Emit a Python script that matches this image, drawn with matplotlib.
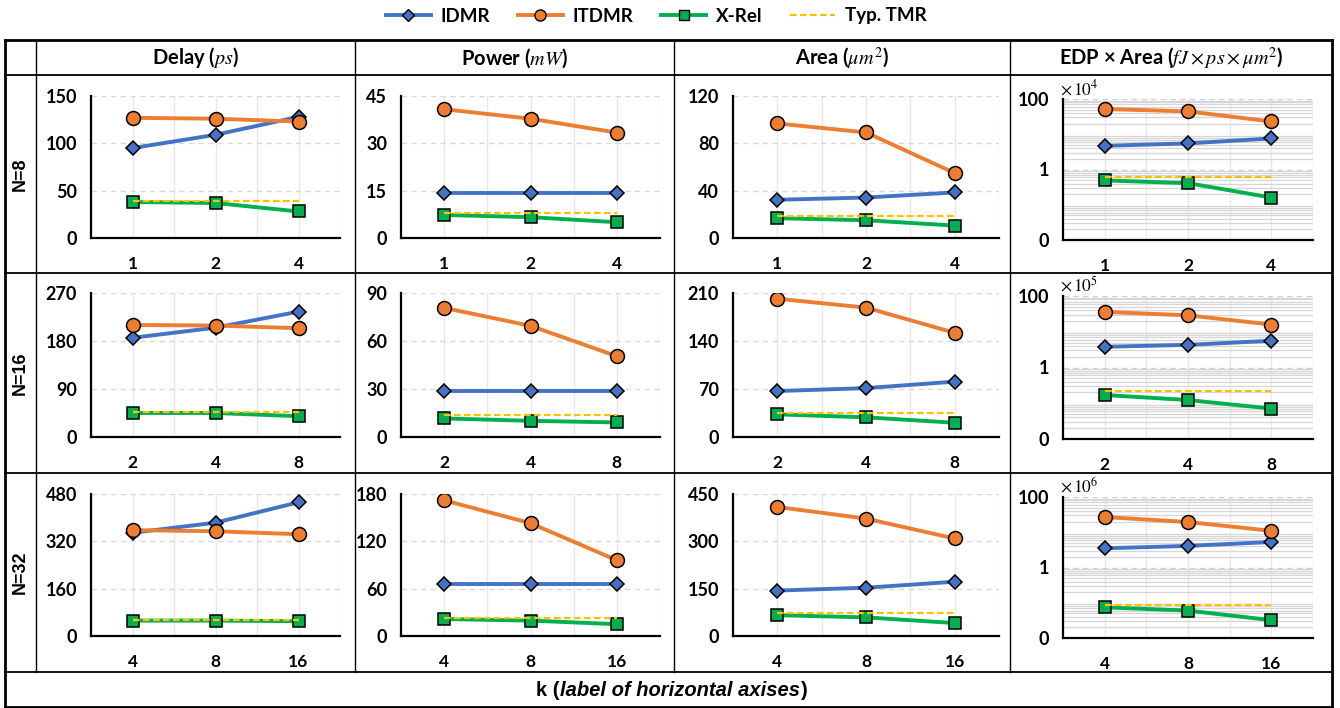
import numpy as np
import matplotlib.pyplot as plt
from matplotlib.lines import Line2D
from matplotlib.ticker import FixedLocator, LogLocator, NullFormatter

plt.rcParams['font.family'] = ['Lato', 'DejaVu Sans']
plt.rcParams['mathtext.fontset'] = 'stix'

# categories (k) per row
row_names = ["N=8", "N=16", "N=32"]
k_labels = [["1", "2", "4"], ["2", "4", "8"], ["4", "8", "16"]]

col_titles = ["Delay ($ps$)", "Power ($mW$)", r"Area ($\mu m^2$)",
              r"EDP × Area ($fJ\times ps\times \mu m^2$)"]

# Delay (ps)
delay_idmr = [[95, 109, 128], [186, 205, 235], [349, 383, 452]]
delay_itdmr = [[127, 126, 123], [210, 209, 204], [358, 354, 344]]
delay_xrel = [[38, 37, 28], [45, 45, 39], [52, 52, 50]]
delay_tmr = [38.6, 46, 55]

# Power (mW)
power_idmr = [[14.3, 14.3, 14.3], [28.7, 28.7, 28.7], [66, 66, 66]]
power_itdmr = [[40.8, 37.8, 33.4], [80.7, 69.5, 50.5], [172, 143, 96]]
power_xrel = [[7.3, 6.6, 5.0], [11.6, 10.1, 9.1], [21.5, 19.5, 15]]
power_tmr = [7.9, 14, 23]

# Area (um^2)
area_idmr = [[32.3, 34.2, 38.5], [67, 71.3, 80.7], [144, 153, 172]]
area_itdmr = [[96.8, 89.2, 54.9], [201.6, 188.7, 152], [409, 372, 309]]
area_xrel = [[16.7, 15, 10.5], [33, 28.7, 20.8], [66, 59, 41]]
area_tmr = [18.7, 35.6, 72]

# EDP x Area (scaled by 10^4, 10^5, 10^6)
edp_idmr = [[4.7, 5.5, 7.6], [3.8, 4.3, 5.6], [3.5, 4.1, 5.3]]
edp_itdmr = [[52, 44.5, 23], [35.9, 28.8, 15.9], [27, 19.5, 11]]
edp_xrel = [[0.49, 0.41, 0.16], [0.17, 0.123, 0.071], [0.074, 0.06, 0.032]]
edp_tmr = [0.63, 0.22, 0.087]
edp_exp = [4, 5, 6]

ymax_lin = [[150, 45, 120], [270, 90, 210], [480, 180, 450]]

series = [
    (delay_idmr, delay_itdmr, delay_xrel, delay_tmr),
    (power_idmr, power_itdmr, power_xrel, power_tmr),
    (area_idmr, area_itdmr, area_xrel, area_tmr),
    (edp_idmr, edp_itdmr, edp_xrel, edp_tmr),
]

C_BLUE = "#4472C4"
C_ORANGE = "#ED7D31"
C_GREEN = "#00B050"
C_YELLOW = "#FFC000"

W, H = 1340, 708
fig = plt.figure(figsize=(W / 100, H / 100), dpi=100)


def fx(x):
    return x / W


def fy(y):
    return 1 - y / H


def hline(y, x0, x1, lw=1.0):
    fig.add_artist(Line2D([fx(x0), fx(x1)], [fy(y), fy(y)], color="black", lw=lw))


def vline(x, y0, y1, lw=1.0):
    fig.add_artist(Line2D([fx(x), fx(x)], [fy(y0), fy(y1)], color="black", lw=lw))


# table frame
L, R = 5, 1332
row_edges = [40, 75, 273, 473, 672, 707]
col_edges = [36, 355, 674, 1010]
for y in row_edges[1:-1]:
    hline(y, L, R, lw=1.3)
hline(row_edges[0], L, R, lw=2)
hline(row_edges[-1], L, R, lw=2)
vline(L, row_edges[0], row_edges[-1], lw=2)
vline(R, row_edges[0], row_edges[-1], lw=2)
for x in col_edges:
    vline(x, row_edges[0], row_edges[4], lw=1.0)

# headers
col_bounds = col_edges + [R]
for j, t in enumerate(col_titles):
    cx = (col_bounds[j] + col_bounds[j + 1]) / 2
    fig.text(fx(cx), fy(58), t, ha="center", va="center", fontsize=14.5,
             fontweight="bold")

for i, name in enumerate(row_names):
    cy = (row_edges[i + 1] + row_edges[i + 2]) / 2
    fig.text(fx(20), fy(cy), name, ha="center", va="center", rotation=90,
             fontsize=13, fontweight="bold", family="Liberation Sans")

# footer with italic part
renderer = fig.canvas.get_renderer()
fy_foot = fy(696)
t_mid = fig.text(fx(680), fy_foot, "label of horizontal axises", ha="center",
                 va="baseline", fontsize=14.5, fontweight="bold", style="italic",
                 family="Liberation Sans")
bb = t_mid.get_window_extent(renderer)
fig.text(bb.x0 / fig.bbox.width, fy_foot, "k (", ha="right", va="baseline",
         fontsize=14.5, fontweight="bold", family="Liberation Sans")
fig.text(bb.x1 / fig.bbox.width + 0.001, fy_foot, ")", ha="left", va="baseline",
         fontsize=14.5, fontweight="bold", family="Liberation Sans")

# axes placement (pixels)
col_x = [(91, 340), (401, 660), (733, 999), (1063, 1313)]
row_y = [(96, 238), (293, 437), (494, 636)]

for i in range(3):
    for j in range(4):
        x0, x1 = col_x[j]
        y0, y1 = row_y[i]
        if j == 3:
            y0, y1 = y0 + 3, y1 + 2
        ax = fig.add_axes([fx(x0), fy(y1), fx(x1 - x0), (y1 - y0) / H])
        idmr, itdmr, xrel, tmr = series[j]
        xs = np.arange(len(k_labels[i]))
        ax.plot(xs, idmr[i], color=C_BLUE, lw=2.8, marker="D", ms=7,
                mfc=C_BLUE, mec="black", mew=1.1, zorder=3)
        ax.plot(xs, itdmr[i], color=C_ORANGE, lw=2.8, marker="o", ms=10,
                mfc=C_ORANGE, mec="black", mew=1.1, zorder=3)
        ax.plot(xs, xrel[i], color=C_GREEN, lw=2.8, marker="s", ms=9,
                mfc=C_GREEN, mec="black", mew=1.1, zorder=3)
        ax.plot(xs, [tmr[i]] * len(xs), color=C_YELLOW, lw=1.6, ls=(0, (3, 1.5)),
                zorder=4)

        ax.set_xlim(-0.5, 2.5)
        ax.set_xticks(xs)
        ax.set_xticks([-0.5, 0.5, 1.5, 2.5], minor=True)
        ax.set_xticklabels(k_labels[i])
        ax.grid(axis="x", which="both", color="#E8E8E8", lw=1.0, zorder=0)

        if j < 3:
            ym = ymax_lin[i][j]
            ax.set_ylim(0, ym)
            yt = [0, ym / 3, 2 * ym / 3, ym]
            ax.set_yticks(yt)
            ax.set_yticklabels([str(int(round(v))) for v in yt])
            ax.grid(axis="y", which="major", color="#D9D9D9", lw=1.0,
                    ls=(0, (4, 3)), zorder=0)
        else:
            ax.set_yscale("log")
            ax.set_ylim(0.01, 100)
            ax.yaxis.set_major_locator(FixedLocator([0.01, 1, 100]))
            ax.set_yticklabels(["0", "1", "100"])
            ax.yaxis.set_minor_locator(
                LogLocator(base=10, subs=np.arange(2, 10), numticks=50))
            ax.yaxis.set_minor_formatter(NullFormatter())
            ax.grid(axis="y", which="major", color="#D0D0D0", lw=1.0,
                    ls=(0, (4, 3)), zorder=0)
            ax.grid(axis="y", which="minor", color="#D6D6D6", lw=0.9, zorder=0)
            ax.text(-0.01, 1.01, r"$\times\,10^{%d}$" % edp_exp[i],
                    transform=ax.transAxes, ha="left", va="bottom", fontsize=12.5)

        for s in ["top", "right"]:
            ax.spines[s].set_visible(False)
        for s in ["left", "bottom"]:
            ax.spines[s].set_linewidth(1.6)
            ax.spines[s].set_color("black")
        ax.tick_params(axis="both", which="both", length=0)
        ax.tick_params(axis="y", pad=10, labelsize=13)
        ax.tick_params(axis="x", pad=13, labelsize=12.5)
        for lab in ax.get_xticklabels() + ax.get_yticklabels():
            lab.set_fontweight("bold")

# legend
handles = [
    Line2D([], [], color=C_BLUE, lw=2.8, marker="D", ms=6, mfc=C_BLUE,
           mec="black", mew=1.0),
    Line2D([], [], color=C_ORANGE, lw=2.8, marker="o", ms=8, mfc=C_ORANGE,
           mec="black", mew=1.0),
    Line2D([], [], color=C_GREEN, lw=2.8, marker="s", ms=7.5, mfc=C_GREEN,
           mec="black", mew=1.0),
    Line2D([], [], color=C_YELLOW, lw=1.6, ls=(0, (3, 1.5))),
]
fig.legend(handles, ["IDMR", "ITDMR", "X-Rel", "Typ. TMR"], loc="center",
           bbox_to_anchor=(fx(656), fy(16)), ncol=4, frameon=False,
           prop={"weight": "bold", "size": 13.5}, handlelength=2.4,
           columnspacing=1.5, handletextpad=0.5)

fig.savefig("out.png", dpi=100)
